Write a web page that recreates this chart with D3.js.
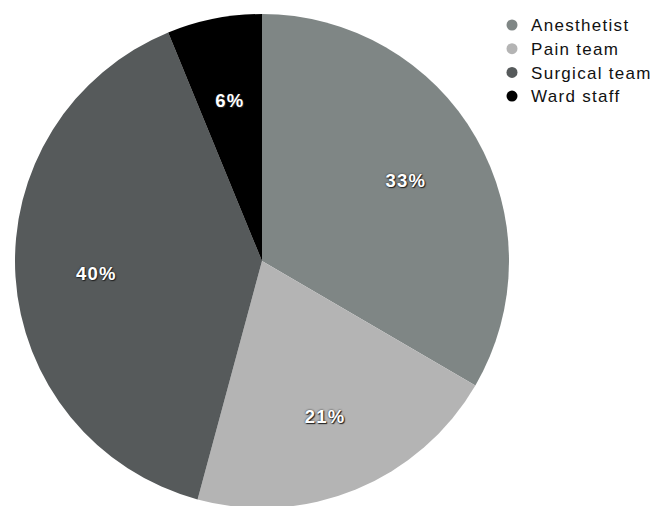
<!DOCTYPE html>
<html><head><meta charset="utf-8">
<script src="https://cdn.jsdelivr.net/npm/d3@7"></script>
<style>body{margin:0;background:#fff}svg{display:block}</style>
</head><body>
<script>
const categories = ["Anesthetist", "Pain team", "Surgical team", "Ward staff"];
const values = [33.4, 20.8, 39.6, 6.2];
const labels = ["33%", "21%", "40%", "6%"];
const colors = ["#7f8685", "#b4b4b4", "#565a5b", "#000000"];

const W = 657, H = 506, cx = 262, cy = 261, R = 247;
const svg = d3.select("body").append("svg").attr("width", W).attr("height", H);
const data = categories.map((c, i) => ({c, v: values[i], l: labels[i], col: colors[i]}));
const pie = d3.pie().value(d => d.v).sort(null);
const arc = d3.arc().innerRadius(0).outerRadius(R);
const lab = d3.arc().innerRadius(166).outerRadius(166);
const g = svg.append("g").attr("transform", `translate(${cx},${cy})`);
const arcs = pie(data);
g.selectAll("path").data(arcs).join("path").attr("d", arc).attr("fill", d => d.data.col);
g.selectAll("text").data(arcs).join("text")
  .attr("transform", d => `translate(${lab.centroid(d)})`)
  .attr("text-anchor", "middle").attr("dy", "0.48em")
  .attr("font-family", "Liberation Sans, Arial, sans-serif")
  .attr("font-size", 18.5).attr("font-weight", "bold").attr("fill", "#fff")
  .attr("letter-spacing", 1.2)
  .style("text-shadow", "0 0 2px #222, 1px 1px 1px #222")
  .text(d => d.data.l);

const lg = svg.append("g").attr("transform", "translate(512,25)");
const rows = lg.selectAll("g").data(data).join("g").attr("transform", (d, i) => `translate(0,${i * 23.7})`);
rows.append("circle").attr("r", 5.5).attr("fill", d => d.col);
rows.append("text").attr("x", 19).attr("dy", "0.36em")
  .attr("font-family", "Liberation Sans, Arial, sans-serif").attr("font-size", 17)
  .attr("letter-spacing", 1.3).attr("fill", "#111")
  .style("-webkit-text-stroke", "0.3px #111")
  .text(d => d.c);
</script>
</body></html>
